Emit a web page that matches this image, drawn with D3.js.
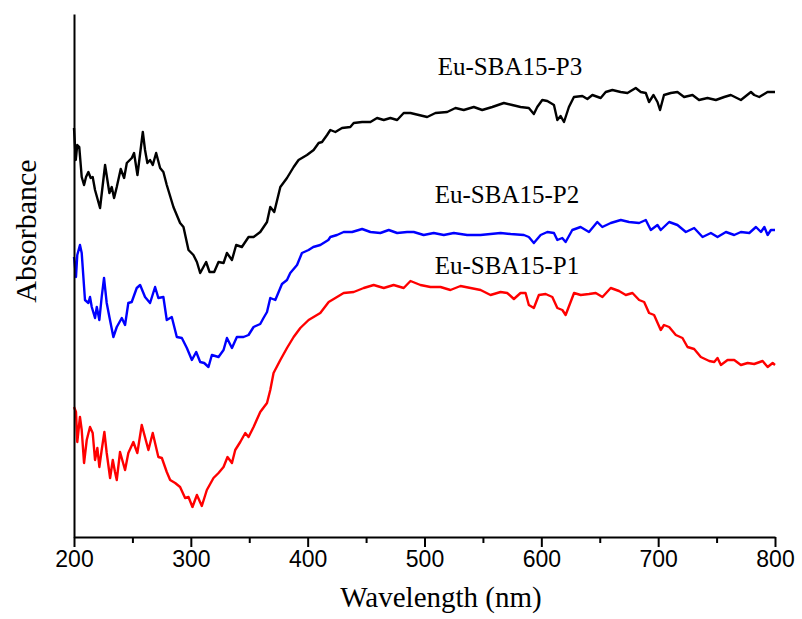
<!DOCTYPE html>
<html>
<head>
<meta charset="utf-8">
<script src="https://cdn.jsdelivr.net/npm/d3@7"></script>
<style>
  body { margin: 0; background: #fff; }
  svg { display: block; }
</style>
</head>
<body>
<div id="chart"></div>
<script>
// ---- data (absorbance, arbitrary units, curves offset as in the figure) ----
var p3_wl = [200,201.5,202.8,204.5,206.6,208.6,210.3,212.3,214.3,216,218,222.3,226.6,230.3,232.3,234.3,236.6,240,242.9,245.2,249.5,251.4,254.3,258.9,260.8,262.8,265.1,267.4,270.3,273.7,276.5,279.4,285.1,290.8,293.7,298,302.2,305.2,308,313.1,316,320,323.7,328,330.9,335.2,338.8,343.7,349.4,353.7,359.4,365.2,368,371.4,376.6,382.3,388,392.2,399.4,405.1,409.4,412.3,416.6,419.4,423.7,429.4,436.5,439.4,446.6,453.7,459.4,465.1,470.8,476.6,482.2,488,495.1,502.3,509.4,519.4,526.5,533.6,542.2,549.4,558,567.9,575.1,582.2,589.3,593.6,596.5,600.8,605.1,608,610.8,613.7,616.5,619.4,623.6,627.9,635.1,639.4,643.7,650.8,655.1,660.8,667.9,673.7,680.8,685.1,689.4,692.2,696,699.4,701.6,705,710.8,716.5,722.2,729.4,735,742.2,749.4,756.5,762.2,770.8,779.4,782.2,786.5,793.6,800];
var p3_abs = [4.09,3.77,3.92,3.90,3.60,3.52,3.60,3.65,3.59,3.60,3.47,3.29,3.72,3.44,3.50,3.39,3.50,3.68,3.59,3.74,3.79,3.84,3.62,4.05,3.87,3.74,3.77,3.72,3.84,3.69,3.65,3.52,3.30,3.14,3.10,2.87,2.82,2.75,2.64,2.75,2.65,2.65,2.75,2.74,2.84,2.77,2.92,2.90,3.00,3.00,3.05,3.15,3.30,3.25,3.50,3.59,3.70,3.77,3.82,3.87,3.94,3.95,4.02,4.07,4.05,4.09,4.10,4.14,4.15,4.15,4.19,4.17,4.19,4.17,4.24,4.24,4.22,4.20,4.24,4.25,4.29,4.27,4.30,4.27,4.30,4.34,4.32,4.30,4.29,4.23,4.30,4.37,4.36,4.34,4.32,4.17,4.21,4.15,4.30,4.40,4.41,4.38,4.42,4.39,4.45,4.47,4.45,4.44,4.49,4.45,4.44,4.35,4.42,4.35,4.27,4.42,4.44,4.45,4.40,4.42,4.37,4.39,4.37,4.40,4.42,4.37,4.45,4.42,4.40,4.45,4.45];

var p2_wl = [200,201.7,202.8,205.1,206.6,209.4,212.3,213.7,215.2,218,219.5,221.7,223.7,225.7,228,230.3,233.7,236.6,240.9,243.7,246.5,249.4,253.7,256.6,260.8,265.1,269.4,272.2,276.5,279.4,283.7,288,292.3,296.6,300.9,304.6,308,311.4,315.1,318,323.7,328,330.9,335.2,339.4,345.1,349.4,353.7,359.4,362.2,365.2,368,372.3,378,382.3,385.1,390.9,395.1,400.8,404.8,410.8,417.7,419.4,425.1,430.8,438,446.6,453.7,462.2,469.4,476.6,485.1,490.8,499.3,507.9,516.5,525.1,536.5,547.9,556.5,565.1,573.7,585.1,589.3,593.6,599.4,605.1,610.8,613.7,617.9,620.8,626.5,633.6,640.8,647.9,652.2,659.4,668,675.1,683.7,689.4,693.7,699.4,702.2,709.4,716.5,723.7,730.8,738,745.1,750.8,758,765.1,770.8,778,783.7,788,790.9,793.7,796.5,800];
var p2_abs = [2.80,2.60,2.82,2.92,2.84,2.37,2.34,2.40,2.30,2.19,2.30,2.17,2.40,2.59,2.34,2.20,2.00,2.10,2.19,2.12,2.34,2.35,2.49,2.52,2.40,2.34,2.50,2.39,2.40,2.17,2.20,2.00,1.99,1.89,1.77,1.85,1.75,1.74,1.70,1.82,1.80,1.87,1.99,1.89,2.00,2.00,2.02,2.10,2.13,2.19,2.25,2.39,2.37,2.53,2.57,2.64,2.72,2.84,2.87,2.90,2.92,2.97,3.00,3.02,3.05,3.05,3.08,3.05,3.04,3.07,3.04,3.05,3.05,3.02,3.04,3.02,3.04,3.02,3.02,3.03,3.04,3.03,3.02,3.00,2.94,3.02,3.05,3.04,2.97,2.99,2.95,3.07,3.10,3.05,3.15,3.10,3.14,3.17,3.15,3.14,3.17,3.07,3.12,3.07,3.15,3.12,3.05,3.09,3.00,3.04,3.00,3.05,3.02,3.05,3.04,3.10,3.05,3.10,3.02,3.07,3.07];

var p1_wl = [200,201.7,202.8,205.1,206.6,208.6,210.9,213.7,216,218,220,221.7,223.7,226,228,230.9,233.2,235.1,236.6,239.4,243.7,246.5,250.8,254.2,258,263.7,267.4,272.2,275.2,279.4,282.3,286.6,290.8,295.1,298,301.4,305.2,309.4,313.7,319.4,323.7,328,331.4,335.2,338,342.3,346.6,349.4,353.7,359.4,365.2,368,370.8,376.6,382.3,388,393.7,400.8,410.8,418,423.7,430.8,439.4,448,456.5,465.1,473.6,482.2,488,496.5,505.1,513.7,522.2,530.8,539.4,548,556.5,565.1,570.8,576.5,582.2,586.5,589.3,593.6,597.9,603.7,609.4,613.7,618,620.8,628,633.7,640.8,646.6,652.3,659.4,666.5,672.3,678,683.7,688,692.2,696.5,702.2,705,709.4,715.1,720.8,725.1,730.8,736.5,743.7,748,750.8,753.7,759.4,765.1,770.8,776.6,782.2,789.4,793.7,798,800];
var p1_abs = [1.30,1.25,0.95,1.20,1.07,0.74,0.97,1.10,1.04,0.77,0.89,0.70,0.87,1.05,0.84,0.59,0.77,0.65,0.57,0.85,0.67,0.84,0.95,0.84,1.12,0.87,1.04,0.80,0.79,0.65,0.57,0.54,0.50,0.39,0.40,0.30,0.42,0.31,0.47,0.59,0.64,0.70,0.80,0.74,0.87,0.95,1.04,1.00,1.10,1.25,1.34,1.47,1.64,1.77,1.89,2.00,2.09,2.17,2.24,2.35,2.39,2.44,2.45,2.49,2.52,2.49,2.52,2.49,2.56,2.52,2.50,2.50,2.47,2.51,2.49,2.47,2.42,2.45,2.44,2.38,2.44,2.44,2.32,2.29,2.42,2.43,2.40,2.29,2.27,2.22,2.44,2.42,2.43,2.44,2.40,2.49,2.46,2.42,2.44,2.37,2.35,2.24,2.22,2.07,2.12,2.10,2.02,1.99,1.90,1.88,1.80,1.76,1.75,1.79,1.72,1.77,1.77,1.72,1.74,1.73,1.76,1.70,1.74,1.72];

var series_names = ["Eu-SBA15-P3", "Eu-SBA15-P2", "Eu-SBA15-P1"];
var series_colors = ["#000000", "#0000ff", "#ff0000"];
var label_pos = [[510, 4.62], [507, 3.34], [507, 2.63]]; // [px centre, value] for the text
var x_ticks = [200, 300, 400, 500, 600, 700, 800];
var x_minor = [250, 350, 450, 550, 650, 750];

var width = 802, height = 619;

var svg = d3.select("#chart").append("svg")
  .attr("width", width).attr("height", height);

var x = d3.scaleLinear().domain([200, 800]).range([74, 775]);
var y = d3.scaleLinear().domain([0, 5.23]).range([537, 14]);

var line = d3.line()
  .x(function(d){ return x(d[0]); })
  .y(function(d){ return y(d[1]); });

var sets = [d3.zip(p3_wl, p3_abs), d3.zip(p2_wl, p2_abs), d3.zip(p1_wl, p1_abs)];

sets.forEach(function(s, i){
  svg.append("path")
    .datum(s)
    .attr("fill", "none")
    .attr("stroke", series_colors[i])
    .attr("stroke-width", 2.4)
    .attr("stroke-linejoin", "round")
    .attr("d", line);
});

// series labels
series_names.forEach(function(n, i){
  svg.append("text")
    .attr("x", label_pos[i][0])
    .attr("y", y(label_pos[i][1]))
    .attr("text-anchor", "middle")
    .style("font-family", "'Liberation Serif', 'Times New Roman', serif")
    .style("font-size", "25px")
    .text(n);
});

// x axis
var gx = svg.append("g").attr("transform", "translate(0,537)");
gx.call(d3.axisBottom(x).tickValues(x_ticks).tickSize(10).tickSizeOuter(0).tickPadding(4));
gx.append("g").call(d3.axisBottom(x).tickValues(x_minor).tickSize(6).tickFormat(""))
  .select(".domain").remove();
gx.selectAll("path, line").attr("stroke", "#000").attr("stroke-width", 2);
gx.selectAll("text")
  .style("font-family", "'Liberation Sans', Arial, sans-serif")
  .style("font-size", "23px")
  .attr("fill", "#000");

// y axis (no ticks, just the line)
var gy = svg.append("g").attr("transform", "translate(74,0)");
gy.call(d3.axisLeft(y).tickValues([]).tickSizeOuter(0));
gy.selectAll("path").attr("stroke", "#000").attr("stroke-width", 2);

// axis titles
svg.append("text")
  .attr("x", 441).attr("y", 607)
  .attr("text-anchor", "middle")
  .style("font-family", "'Liberation Serif', 'Times New Roman', serif")
  .style("font-size", "29px")
  .text("Wavelength (nm)");

svg.append("text")
  .attr("transform", "translate(36,231) rotate(-90)")
  .attr("text-anchor", "middle")
  .style("font-family", "'Liberation Serif', 'Times New Roman', serif")
  .style("font-size", "30px")
  .text("Absorbance");
</script>
</body>
</html>
